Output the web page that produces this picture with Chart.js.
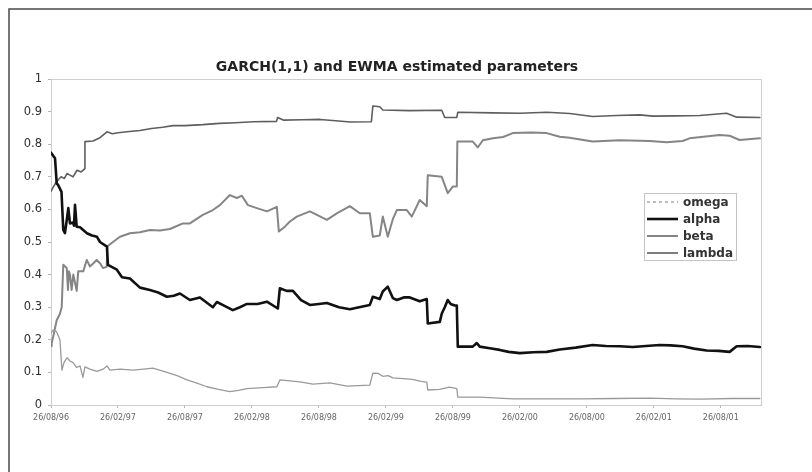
<!DOCTYPE html>
<html>
<head>
<meta charset="utf-8">
<script src="https://cdn.jsdelivr.net/npm/chart.js@4.4.1/dist/chart.umd.min.js"></script>
<style>
  html, body { margin: 0; padding: 0; background: #fff; }
  #wrap { width: 812px; height: 472px; position: relative; }
</style>
</head>
<body>
<div id="wrap"><canvas id="c" width="812" height="472"></canvas></div>
<script>
// Time axis: months elapsed since 26/08/96
const xTickMonths = [0, 6, 12, 18, 24, 30, 36, 42, 48, 54, 60];
const xTickLabels = ['26/08/96', '26/02/97', '26/08/97', '26/02/98', '26/08/98', '26/02/99',
                     '26/08/99', '26/02/00', '26/08/00', '26/02/01', '26/08/01'];
const yTickValues = [0, 0.1, 0.2, 0.3, 0.4, 0.5, 0.6, 0.7, 0.8, 0.9, 1];
const yTickLabels = ['0', '0.1', '0.2', '0.3', '0.4', '0.5', '0.6', '0.7', '0.8', '0.9', '1'];
const seriesNames = ['omega', 'alpha', 'beta', 'lambda'];
const chartTitle = 'GARCH(1,1) and EWMA estimated parameters';

// Estimated parameters: [month, value]
const omega = [
  [0.0, 0.22], [0.18, 0.23], [0.5, 0.225], [0.8, 0.20], [0.98, 0.107], [1.16, 0.13], [1.43, 0.145],
  [1.7, 0.135], [1.97, 0.13], [2.3, 0.115], [2.6, 0.12], [2.86, 0.085], [3.04, 0.117], [3.49, 0.11],
  [4.12, 0.103], [4.66, 0.11], [5.01, 0.12], [5.28, 0.107], [6.2, 0.11], [7.34, 0.107], [8.3, 0.11],
  [9.13, 0.113], [10.38, 0.10], [11.3, 0.09], [12.18, 0.077], [13.0, 0.068], [13.97, 0.056],
  [15.0, 0.048], [16.02, 0.041], [16.8, 0.045], [17.55, 0.05], [19.0, 0.053], [20.23, 0.056],
  [20.5, 0.077], [22.29, 0.071], [23.46, 0.064], [24.98, 0.068], [26.5, 0.058], [28.56, 0.061],
  [28.83, 0.098], [29.3, 0.097], [29.72, 0.088], [30.2, 0.090], [30.62, 0.083], [31.87, 0.080],
  [32.5, 0.078], [33.03, 0.073], [33.66, 0.070], [33.75, 0.046], [34.8, 0.048], [35.7, 0.055],
  [36.35, 0.050], [36.44, 0.024], [38.41, 0.024], [41.36, 0.019], [44.0, 0.019], [47.36, 0.019],
  [50.5, 0.020], [53.63, 0.021], [56.0, 0.019], [58.1, 0.018], [61.0, 0.020], [63.5, 0.020]
];
const alpha = [
  [0.0, 0.774], [0.36, 0.757], [0.51, 0.68], [0.63, 0.675], [0.94, 0.654], [1.1, 0.537], [1.25, 0.527],
  [1.41, 0.567], [1.55, 0.604], [1.7, 0.557], [1.97, 0.56], [2.06, 0.55], [2.15, 0.614], [2.3, 0.547],
  [2.6, 0.545], [3.22, 0.527], [3.67, 0.52], [4.12, 0.516], [4.39, 0.50], [5.01, 0.486], [5.1, 0.43],
  [5.9, 0.415], [6.36, 0.392], [7.07, 0.388], [7.97, 0.36], [8.86, 0.353], [9.6, 0.345], [10.38, 0.332],
  [11.0, 0.335], [11.55, 0.342], [12.44, 0.322], [13.34, 0.33], [14.5, 0.30], [14.86, 0.316],
  [15.5, 0.305], [16.29, 0.291], [16.92, 0.30], [17.55, 0.31], [18.5, 0.31], [19.34, 0.317],
  [20.32, 0.296], [20.5, 0.358], [21.1, 0.35], [21.67, 0.35], [22.4, 0.322], [23.19, 0.307],
  [24.0, 0.31], [24.71, 0.313], [25.8, 0.30], [26.77, 0.294], [27.6, 0.30], [28.56, 0.307],
  [28.83, 0.332], [29.45, 0.325], [29.72, 0.348], [30.17, 0.363], [30.62, 0.328], [30.98, 0.322],
  [31.6, 0.33], [32.14, 0.33], [33.03, 0.318], [33.66, 0.325], [33.75, 0.25], [34.83, 0.255],
  [35.0, 0.28], [35.27, 0.30], [35.54, 0.322], [35.8, 0.31], [36.17, 0.305], [36.35, 0.305],
  [36.44, 0.179], [37.78, 0.179], [38.14, 0.19], [38.41, 0.179], [39.3, 0.174], [40.2, 0.169],
  [41.0, 0.163], [41.99, 0.159], [43.2, 0.162], [44.4, 0.163], [45.57, 0.17], [47.0, 0.176],
  [48.52, 0.184], [49.7, 0.181], [50.94, 0.18], [52.1, 0.178], [53.3, 0.181], [54.52, 0.184],
  [55.5, 0.183], [56.58, 0.18], [57.6, 0.173], [58.73, 0.167], [59.8, 0.166], [60.79, 0.163],
  [61.42, 0.18], [62.4, 0.181], [63.5, 0.178]
];
const beta = [
  [0.0, 0.18], [0.06, 0.19], [0.2, 0.21], [0.51, 0.26], [0.8, 0.28], [0.96, 0.30], [1.1, 0.43],
  [1.41, 0.42], [1.52, 0.353], [1.6, 0.41], [1.7, 0.40], [1.85, 0.353], [2.0, 0.40], [2.3, 0.35],
  [2.44, 0.41], [2.89, 0.41], [3.2, 0.445], [3.49, 0.425], [3.8, 0.435], [4.09, 0.445], [4.39, 0.435],
  [4.66, 0.42], [4.99, 0.424], [5.04, 0.486], [5.55, 0.50], [6.18, 0.516], [7.07, 0.527], [7.97, 0.53],
  [8.86, 0.537], [9.76, 0.535], [10.65, 0.54], [11.82, 0.557], [12.44, 0.557], [13.6, 0.583],
  [14.5, 0.598], [15.13, 0.613], [16.02, 0.644], [16.65, 0.635], [17.1, 0.642], [17.64, 0.613],
  [18.44, 0.604], [19.34, 0.594], [20.23, 0.608], [20.41, 0.532], [20.95, 0.547], [21.4, 0.563],
  [22.02, 0.578], [23.19, 0.594], [24.0, 0.58], [24.71, 0.568], [25.6, 0.588], [26.77, 0.61],
  [27.66, 0.588], [28.56, 0.588], [28.83, 0.516], [29.45, 0.52], [29.72, 0.578], [30.17, 0.516],
  [30.62, 0.57], [30.98, 0.598], [31.87, 0.598], [32.32, 0.578], [33.03, 0.629], [33.66, 0.61],
  [33.75, 0.705], [35.0, 0.70], [35.54, 0.65], [35.99, 0.67], [36.35, 0.67], [36.4, 0.808],
  [37.78, 0.808], [38.23, 0.79], [38.68, 0.812], [39.6, 0.818], [40.5, 0.822], [41.36, 0.834],
  [43.0, 0.836], [44.4, 0.834], [45.57, 0.823], [46.46, 0.82], [48.52, 0.808], [50.94, 0.812],
  [53.63, 0.81], [55.15, 0.806], [56.58, 0.81], [57.2, 0.818], [59.89, 0.828], [60.79, 0.826],
  [61.68, 0.813], [63.5, 0.818]
];
const lambda = [
  [0.0, 0.655], [0.15, 0.665], [0.4, 0.68], [0.63, 0.69], [0.9, 0.70], [1.2, 0.695], [1.43, 0.71],
  [1.7, 0.705], [1.97, 0.70], [2.33, 0.72], [2.7, 0.715], [3.04, 0.725], [3.04, 0.808], [3.76, 0.81],
  [4.39, 0.82], [5.01, 0.838], [5.5, 0.832], [6.0, 0.835], [6.8, 0.838], [7.97, 0.842], [9.0, 0.848],
  [10.0, 0.852], [10.92, 0.857], [12.0, 0.857], [13.6, 0.860], [15.1, 0.864], [16.5, 0.866],
  [18.1, 0.869], [20.2, 0.870], [20.3, 0.882], [20.8, 0.874], [22.5, 0.875], [24.1, 0.876],
  [25.5, 0.872], [26.8, 0.868], [28.7, 0.869], [28.83, 0.917], [29.45, 0.915], [29.72, 0.905],
  [32.1, 0.903], [35.0, 0.904], [35.27, 0.882], [36.35, 0.882], [36.44, 0.898], [39.6, 0.896],
  [42.0, 0.895], [44.4, 0.898], [46.46, 0.894], [48.52, 0.885], [50.67, 0.888], [52.73, 0.890],
  [53.9, 0.886], [56.0, 0.887], [58.1, 0.888], [60.52, 0.895], [61.42, 0.883], [63.5, 0.882]
];

const toPoints = arr => arr.map(([x, y]) => ({ x, y }));

Chart.defaults.font.family = "'DejaVu Sans', sans-serif";

// White page with the outer frame
const pageFrame = {
  id: 'pageFrame',
  beforeDraw(chart) {
    const ctx = chart.ctx;
    ctx.save();
    ctx.fillStyle = '#ffffff';
    ctx.fillRect(0, 0, chart.width, chart.height);
    ctx.strokeStyle = '#4a4a4a';
    ctx.lineWidth = 1.5;
    ctx.strokeRect(9, 9, chart.width + 40, chart.height + 40);
    ctx.restore();
  }
};

// Light border round the plot area, and the heading centred over it
const plotBorder = {
  id: 'plotBorder',
  beforeDatasetsDraw(chart) {
    const { ctx, chartArea: a } = chart;
    ctx.save();
    ctx.strokeStyle = '#cfcfcf';
    ctx.lineWidth = 1;
    ctx.strokeRect(a.left + 0.5, a.top + 0.5, a.right - a.left, a.bottom - a.top);
    ctx.fillStyle = '#222222';
    ctx.font = "bold 14px 'DejaVu Sans'";
    ctx.textAlign = 'center';
    ctx.textBaseline = 'middle';
    ctx.fillText(chartTitle, 397, 67);
    ctx.restore();
  }
};

// Boxed legend sitting inside the plot on the right
const insetLegend = {
  id: 'insetLegend',
  afterDraw(chart) {
    const ctx = chart.ctx;
    const bx = 644, by = 193, bw = 92, bh = 67;
    ctx.save();
    ctx.fillStyle = '#ffffff';
    ctx.fillRect(bx, by, bw, bh);
    ctx.strokeStyle = '#c4c4c4';
    ctx.lineWidth = 1;
    ctx.strokeRect(bx + 0.5, by + 0.5, bw, bh);
    ctx.font = "bold 12px 'DejaVu Sans'";
    ctx.textBaseline = 'middle';
    ctx.textAlign = 'left';
    chart.data.datasets.forEach((ds, i) => {
      const y = by + 9 + i * 17;
      ctx.strokeStyle = ds.borderColor;
      ctx.lineWidth = ds.borderWidth;
      ctx.setLineDash(ds.legendDash || []);
      ctx.beginPath();
      ctx.moveTo(bx + 3, y);
      ctx.lineTo(bx + 34, y);
      ctx.stroke();
      ctx.setLineDash([]);
      ctx.fillStyle = '#333333';
      ctx.fillText(ds.label, bx + 39, y + 0.5);
    });
    ctx.restore();
  }
};

new Chart(document.getElementById('c'), {
  type: 'line',
  data: {
    datasets: [
      { label: seriesNames[0], data: toPoints(omega), borderColor: '#9a9a9a', borderWidth: 1.3,
        legendDash: [3, 3] },
      { label: seriesNames[1], data: toPoints(alpha), borderColor: '#111111', borderWidth: 2.6 },
      { label: seriesNames[2], data: toPoints(beta), borderColor: '#858585', borderWidth: 2 },
      { label: seriesNames[3], data: toPoints(lambda), borderColor: '#5e5e5e', borderWidth: 1.6 }
    ]
  },
  options: {
    responsive: false,
    animation: false,
    devicePixelRatio: 1,
    layout: { padding: { left: 0, right: 51, top: 79, bottom: 47 } },
    elements: {
      point: { radius: 0 },
      line: { tension: 0, borderJoinStyle: 'round', borderCapStyle: 'round' }
    },
    plugins: {
      legend: { display: false },
      tooltip: { enabled: false },
      title: { display: false }
    },
    scales: {
      x: {
        type: 'linear',
        min: 0,
        max: 63.6,
        afterBuildTicks: s => { s.ticks = xTickMonths.map(v => ({ value: v })); },
        afterFit: s => { s.height = 20; },
        grid: { display: true, drawOnChartArea: false, drawTicks: true, tickLength: 3, color: '#b5b5b5' },
        border: { display: true, color: '#b5b5b5', width: 1 },
        ticks: {
          autoSkip: false,
          maxRotation: 0,
          padding: 5,
          color: '#666666',
          font: { size: 8 },
          callback: (v, i) => xTickLabels[i]
        }
      },
      y: {
        type: 'linear',
        min: 0,
        max: 1,
        afterBuildTicks: s => { s.ticks = yTickValues.map(v => ({ value: v })); },
        afterFit: s => { s.width = 51; },
        grid: { display: true, drawOnChartArea: false, drawTicks: true, tickLength: 3, color: '#b5b5b5' },
        border: { display: true, color: '#b5b5b5', width: 1 },
        ticks: {
          padding: 6,
          color: '#2e2e2e',
          font: { size: 11.5 },
          callback: (v, i) => yTickLabels[i]
        }
      }
    }
  },
  plugins: [pageFrame, plotBorder, insetLegend]
});
</script>
</body>
</html>
